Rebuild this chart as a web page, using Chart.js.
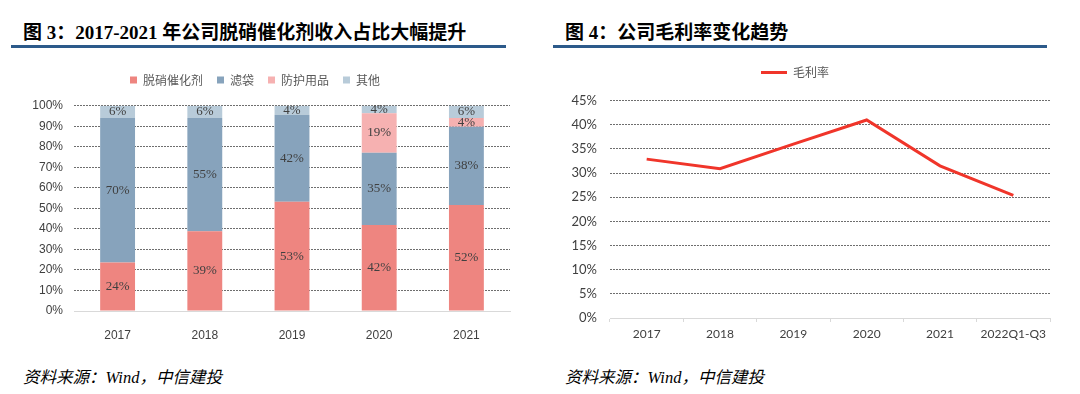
<!DOCTYPE html>
<html>
<head>
<meta charset="utf-8">
<script src="https://cdn.jsdelivr.net/npm/chart.js@4.4.1/dist/chart.umd.min.js"></script>
<style>
  body { margin: 0; width: 1080px; height: 394px; background: #fff; position: relative; overflow: hidden; }
  .title { position: absolute; top: 17px; font: bold 19px "Liberation Serif", "Noto Sans CJK SC", serif; color: #000; white-space: nowrap; }
  .rule { position: absolute; top: 45px; height: 3px; background: #2c5a8a; }
  .src { position: absolute; top: 364px; font: italic 16.5px "Liberation Serif", "Noto Sans CJK SC", serif; color: #000; white-space: nowrap; }
  canvas { position: absolute; }
</style>
</head>
<body>
<div class="title" style="left:23px">图 3：2017-2021 年公司脱硝催化剂收入占比大幅提升</div>
<div class="rule" style="left:11px;width:495px"></div>
<div class="title" style="left:565px">图 4：公司毛利率变化趋势</div>
<div class="rule" style="left:553px;width:494px"></div>
<div class="src" style="left:23px">资料来源：Wind，中信建投</div>
<div class="src" style="left:565px">资料来源：Wind，中信建投</div>

<div style="position:absolute;left:0;top:60px;width:512px;height:281px"><canvas id="mixChart"></canvas></div>
<div style="position:absolute;left:540px;top:50px;width:512px;height:298px"><canvas id="marginChart"></canvas></div>

<script>
// --- datos ---
const years = ['2017', '2018', '2019', '2020', '2021'];
const catalyst = [23.6, 38.8, 53.2, 41.9, 51.6];   // 脱硝催化剂
const filterBag = [70.4, 55.2, 42.4, 35.2, 38.2];  // 滤袋
const protective = [0, 0, 0, 19.2, 4.2];           // 防护用品
const others = [6.0, 6.0, 4.4, 3.7, 6.0];          // 其他

const periods = ['2017', '2018', '2019', '2020', '2021', '2022Q1-Q3'];
const grossMargin = [32.9, 30.9, 36.0, 41.0, 31.5, 25.4]; // 毛利率 %

// legend height fix (para alinear el área del gráfico)
const fixLegend = (h) => ({
    id: 'fixLegend',
    afterInit(chart) {
        const lg = chart.legend;
        const fit = lg.fit.bind(lg);
        lg.fit = () => { fit(); lg.height = h; };
    }
});

// etiquetas dentro de las barras
const barLabels = {
    id: 'barLabels',
    afterDatasetsDraw(chart) {
        const ctx = chart.ctx;
        ctx.save();
        ctx.font = '13px "Liberation Serif", serif';
        ctx.fillStyle = '#404040';
        ctx.textAlign = 'center';
        ctx.textBaseline = 'middle';
        chart.data.datasets.forEach((ds, i) => {
            const meta = chart.getDatasetMeta(i);
            meta.data.forEach((bar, j) => {
                const v = ds.data[j];
                if (!v) return;
                ctx.fillText(Math.round(v) + '%', bar.x, (bar.y + bar.base) / 2);
            });
        });
        ctx.restore();
    }
};

const dotted = (ctx) => ctx.tick.value === 0 ? 'rgba(0,0,0,0)' : '#6e6e6e';

new Chart(document.getElementById('mixChart'), {
    type: 'bar',
    data: {
        labels: years,
        datasets: [
            { label: '脱硝催化剂', data: catalyst, backgroundColor: '#ee8580' },
            { label: '滤袋', data: filterBag, backgroundColor: '#87a3bc' },
            { label: '防护用品', data: protective, backgroundColor: '#f6b1b1' },
            { label: '其他', data: others, backgroundColor: '#b8cbd9' }
        ]
    },
    options: {
        responsive: true,
        maintainAspectRatio: false,
        animation: false,
        layout: { padding: { top: 0, right: 2 } },
        datasets: { bar: { barPercentage: 0.4, categoryPercentage: 1 } },
        plugins: {
            legend: {
                position: 'top',
                labels: {
                    boxWidth: 7, boxHeight: 7, padding: 14,
                    color: '#595959',
                    font: { family: '"Noto Sans CJK SC"', size: 12 }
                }
            },
            tooltip: { enabled: false }
        },
        scales: {
            x: {
                stacked: true,
                grid: { display: false },
                border: { display: true, color: '#d9d9d9' },
                ticks: { color: '#404040', padding: 9, font: { family: '"Liberation Sans"', size: 12 } },
                afterFit: (s) => { s.height = 30; }
            },
            y: {
                stacked: true,
                min: 0, max: 100,
                border: { display: false, dash: [2, 1] },
                grid: { color: dotted, drawTicks: false, lineWidth: 1 },
                ticks: {
                    stepSize: 10, padding: 11, color: '#404040',
                    font: { family: '"Liberation Sans"', size: 12 },
                    callback: (v) => v + '%'
                },
                afterFit: (s) => { s.width = 74; }
            }
        }
    },
    plugins: [fixLegend(45.7), barLabels]
});

new Chart(document.getElementById('marginChart'), {
    type: 'line',
    data: {
        labels: periods,
        datasets: [{
            label: '毛利率',
            data: grossMargin,
            borderColor: '#f0352a',
            backgroundColor: '#f0352a',
            borderWidth: 3,
            pointRadius: 0,
            tension: 0
        }]
    },
    options: {
        responsive: true,
        maintainAspectRatio: false,
        animation: false,
        layout: { padding: { top: 6.5, right: 2 } },
        plugins: {
            legend: {
                position: 'top',
                labels: {
                    boxWidth: 26, boxHeight: 3, padding: 10,
                    color: '#595959',
                    font: { family: '"Noto Sans CJK SC"', size: 12 },
                    generateLabels: (chart) => chart.data.datasets.map((ds, i) => ({
                        text: ds.label, fillStyle: ds.borderColor, strokeStyle: ds.borderColor,
                        lineWidth: 0, datasetIndex: i, fontColor: '#595959'
                    }))
                }
            },
            tooltip: { enabled: false }
        },
        scales: {
            x: {
                offset: true,
                grid: { offset: true, drawOnChartArea: false, drawTicks: true, tickLength: 4, color: '#d9d9d9' },
                border: { display: true, color: '#d9d9d9' },
                ticks: { color: '#404040', padding: 5, maxRotation: 0, autoSkip: false, font: { family: 'Lato', size: 12 } },
                afterFit: (s) => { s.height = 30; }
            },
            y: {
                min: 0, max: 45,
                border: { display: false, dash: [2, 1] },
                grid: { color: dotted, drawTicks: false, lineWidth: 1 },
                ticks: {
                    stepSize: 5, padding: 13, color: '#404040',
                    font: { family: 'Lato', size: 13 },
                    callback: (v) => v + '%'
                },
                afterFit: (s) => { s.width = 70; }
            }
        }
    },
    plugins: [fixLegend(44.2)]
});
</script>
</body>
</html>
